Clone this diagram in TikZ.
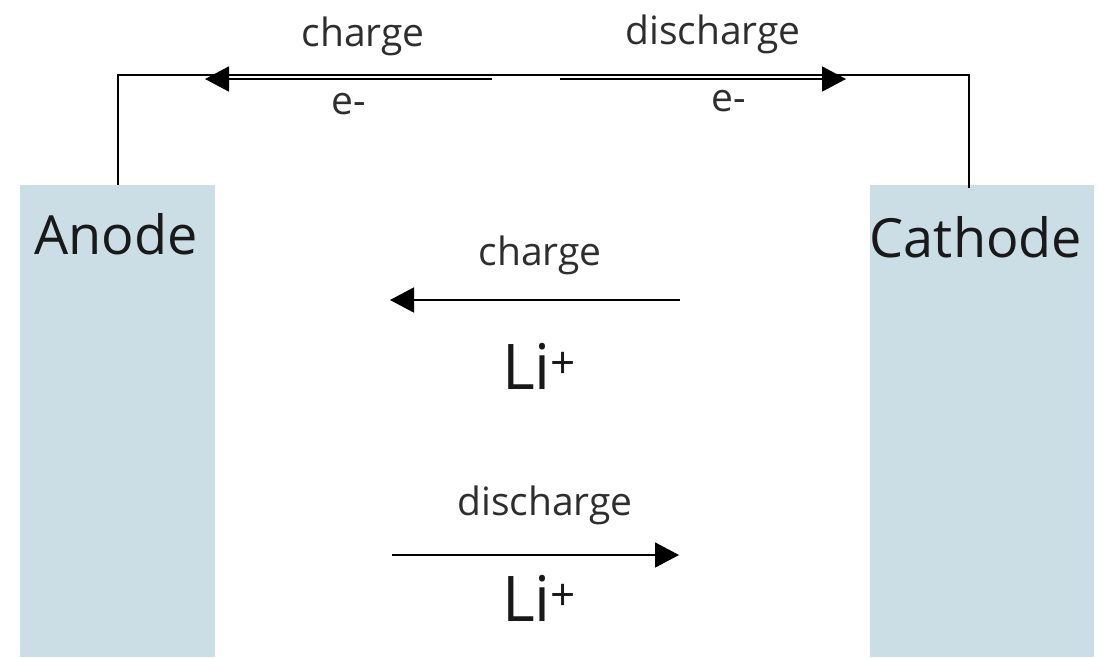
\documentclass[tikz,border=0pt]{standalone}
\usepackage{fontspec}
\setmainfont{Open Sans}
\usetikzlibrary{arrows.meta}
\definecolor{electrode}{HTML}{CBDDE5}
\definecolor{labelgray}{HTML}{2E2E2E}
\newcommand{\lition}{Li{\fontsize{44}{44}\selectfont\raisebox{11pt}{+}}}
\tikzset{
  electrode/.style={fill=electrode, draw=none, inner sep=0pt},
  wire/.style={draw=black, line width=1.4pt},
  flow/.style={draw=black, line width=1.8pt, -{Triangle[length=24pt,width=25pt]}},
  smalllabel/.style={text=labelgray, font=\fontsize{39}{42}\selectfont, inner sep=0pt},
  bigtext/.style={text=black!90, font=\fontsize{54}{58}\selectfont, inner sep=0pt},
  ionlabel/.style={text=black!90, font=\fontsize{63}{66}\selectfont, inner sep=0pt, anchor=base}
}
\begin{document}
\begin{tikzpicture}[x=1pt,y=-1pt]
  \useasboundingbox[fill=white] (0,0) rectangle (1102,657);

  % electrodes
  \node[electrode, minimum width=195pt, minimum height=472pt, anchor=north west] (anodebox) at (20,185) {};
  \node[electrode, minimum width=224pt, minimum height=472pt, anchor=north west] (cathodebox) at (870,185) {};
  \node[bigtext, anchor=base] (anode) at (116,254) {Anode};
  \node[bigtext, anchor=base] (cathode) at (976,257) {Cathode};

  % external circuit
  \coordinate (wa) at (118,185);
  \coordinate (wb) at (969,188);
  \coordinate (ca) at (118,75);
  \coordinate (cb) at (969,75);
  \draw[wire] (wa) -- (ca) -- (cb) -- (wb);

  % electron flow
  \coordinate (eca) at (492,79);
  \coordinate (ecb) at (205,79);
  \coordinate (eda) at (560,79);
  \coordinate (edb) at (846,79);
  \draw[flow] (eca) -- (ecb);
  \draw[flow] (eda) -- (edb);
  \node[smalllabel, anchor=base] (tcharge) at (363,46) {charge};
  \node[smalllabel, anchor=base] (tdischarge) at (713,44) {discharge};
  \node[smalllabel, anchor=base] (em1) at (349,114) {e-};
  \node[smalllabel, anchor=base] (em2) at (729,111) {e-};

  % lithium ion flow
  \coordinate (lca) at (680,300);
  \coordinate (lcb) at (390,300);
  \coordinate (lda) at (392,555);
  \coordinate (ldb) at (679,555);
  \draw[flow] (lca) -- (lcb);
  \draw[flow] (lda) -- (ldb);
  \node[smalllabel, anchor=base] (mcharge) at (540,265) {charge};
  \node[smalllabel, anchor=base] (mdischarge) at (545,515) {discharge};
  \node[ionlabel] (li1) at (539,389) {\lition};
  \node[ionlabel] (li2) at (539,621) {\lition};
\end{tikzpicture}
\end{document}
